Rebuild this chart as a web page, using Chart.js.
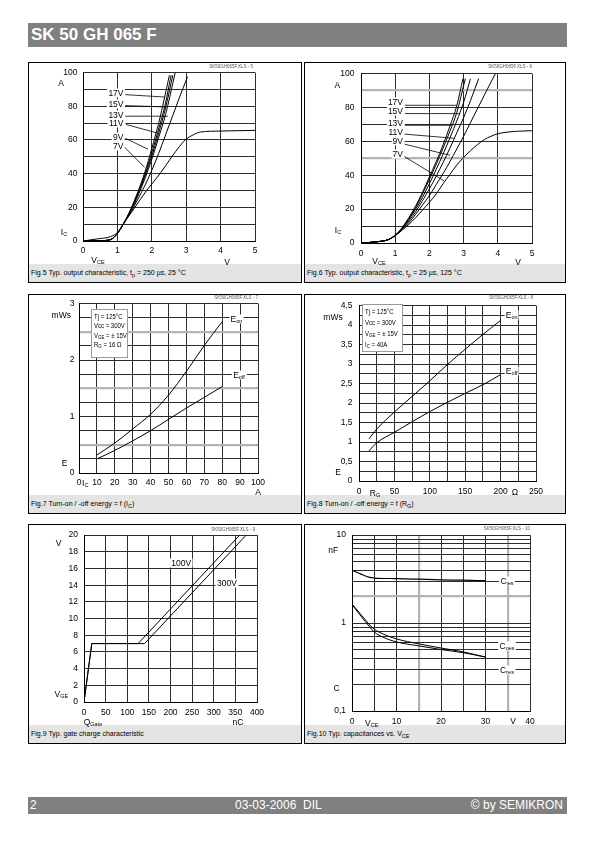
<!DOCTYPE html>
<html><head><meta charset="utf-8">
<script src="https://cdn.jsdelivr.net/npm/chart.js@4.4.1/dist/chart.umd.min.js"></script>
<style>
html,body{margin:0;padding:0;background:#fff}
body{position:relative;width:595px;height:842px;overflow:hidden;font-family:'Liberation Sans',Arial,sans-serif;color:#000}
.bar{position:absolute;background:#808080;color:#fff;white-space:nowrap}
.panel{position:absolute;border:1.5px solid #000;box-sizing:border-box;background:#fff}
.cap{position:absolute;left:0;right:0;bottom:0;height:18px;background:#e4e4e4;font-size:7px;line-height:18px;padding-left:2px;white-space:nowrap}
.t{position:absolute;font-size:8.5px;line-height:9px;white-space:nowrap}
sub{font-size:5.5px;vertical-align:-1.5px;line-height:0}
.wm{position:absolute;font-size:4.5px;line-height:5px;color:#555;white-space:nowrap;transform:translate(-100%,-50%)}
.w{background:#fff;padding:0 1.5px}
.ib{position:absolute;border:1.5px solid #9a9a9a;box-sizing:border-box;background:#fff}
.ib div{position:absolute;left:1.5px;font-size:7.5px;line-height:9px;white-space:nowrap;transform-origin:0 50%;transform:translateY(-50%) scaleX(0.8)}
canvas{position:absolute}
</style></head><body>
<div class="bar" style="left:28px;top:23px;width:539px;height:24px;font-weight:bold;font-size:17px;line-height:24px;padding-left:3px;box-sizing:border-box">SK 50 GH 065 F</div>
<div class="bar" style="left:28px;top:797px;width:539px;height:17px;font-size:12px;line-height:17px">
 <span style="position:absolute;left:2px">2</span>
 <span style="position:absolute;left:207px">03-03-2006&nbsp; DIL</span>
 <span style="position:absolute;right:4px">© by SEMIKRON</span>
</div>
<script>
// ================= DATA =================
// Fig.5  I_C [A] vs V_CE [V], tp = 250 µs, 25 °C
const f5_17V_x = [0, 0.5, 0.8, 1.0, 1.17, 1.4, 1.6, 1.8, 2.0, 2.2, 2.375, 2.51];
const f5_17V_y = [0, 0.2, 0.8, 4.5, 10, 19.5, 29.5, 41, 55, 70, 85.5, 98.4];
const f5_15V_x = [0, 0.5, 0.8, 1.0, 1.17, 1.4, 1.6, 1.8, 2.0, 2.2, 2.4, 2.56];
const f5_15V_y = [0, 0.2, 0.8, 4.5, 10, 19, 28.5, 39.5, 52.5, 66.5, 82, 98.4];
const f5_13V_x = [0, 0.5, 0.8, 1.0, 1.17, 1.4, 1.6, 1.8, 2.0, 2.2, 2.4, 2.61];
const f5_13V_y = [0, 0.2, 0.8, 4.5, 10, 18.5, 28, 38.5, 50.5, 64, 79, 98.4];
const f5_11V_x = [0, 0.5, 0.8, 1.0, 1.17, 1.4, 1.6, 1.8, 2.0, 2.2, 2.4, 2.68];
const f5_11V_y = [0, 0.2, 0.8, 4.5, 10, 18, 27, 37, 48.5, 61.5, 75, 100];
const f5_9V_x  = [0, 0.5, 0.8, 1.0, 1.17, 1.4, 1.6, 1.8, 2.0, 2.2, 2.4, 2.6, 2.8, 3.04];
const f5_9V_y  = [0, 0.2, 0.9, 4.6, 10, 17.5, 25, 33, 42, 52, 63, 74, 85, 97.6];
const f5_7V_x  = [0, 0.4, 0.8, 1.0, 1.17, 1.51, 1.85, 2.24, 2.58, 2.8, 2.97, 3.2, 3.41, 4.0, 5.0];
const f5_7V_y  = [0, 1.2, 2.6, 5, 10, 20, 30, 40, 50, 56, 60, 63, 64.7, 65.3, 65.7];
const f5_leaders = [[1.23, 86.9, 2.375, 85.5], [1.23, 80.4, 2.42, 79.6], [1.23, 74.1, 2.47, 74.1],
                    [1.25, 69.2, 2.13, 64.3], [1.23, 61.0, 1.89, 54.5], [1.2, 55.9, 1.79, 43.7]];
const f5_labels = ['17V', '15V', '13V', '11V', '9V', '7V'];

// Fig.6  I_C [A] vs V_CE [V], tp = 25 µs, 125 °C
const f6_17V_x = [0, 0.5, 0.8, 1.0, 1.2, 1.4, 1.6, 1.8, 2.0, 2.2, 2.4, 2.6, 2.8, 2.98];
const f6_17V_y = [0, 0.8, 2, 4.5, 9, 15, 22, 30, 39, 48, 58, 69, 81, 97];
const f6_15V_x = [0, 0.5, 0.8, 1.0, 1.2, 1.4, 1.6, 1.8, 2.0, 2.2, 2.4, 2.6, 2.8, 3.05];
const f6_15V_y = [0, 0.8, 2, 4.5, 8.8, 14.5, 21, 29, 37.5, 46.5, 56, 66, 77, 97];
const f6_13V_x = [0, 0.5, 0.8, 1.0, 1.2, 1.4, 1.6, 1.8, 2.0, 2.2, 2.4, 2.6, 2.8, 3.0, 3.2];
const f6_13V_y = [0, 0.8, 2, 4.5, 8.5, 14, 20, 27, 35, 43.5, 52.5, 62, 72, 83, 97];
const f6_11V_x = [0, 0.5, 0.8, 1.0, 1.2, 1.4, 1.6, 1.8, 2.0, 2.2, 2.4, 2.6, 2.8, 3.0, 3.2, 3.44];
const f6_11V_y = [0, 0.8, 2, 4.5, 8.2, 13, 18.5, 25, 32, 39.5, 47.5, 56, 65, 74, 84, 97];
const f6_9V_x  = [0, 0.5, 0.8, 1.0, 1.2, 1.4, 1.6, 1.8, 2.0, 2.2, 2.4, 2.6, 2.8, 3.0, 3.2, 3.4, 3.6, 3.8, 3.93];
const f6_9V_y  = [0, 0.8, 2, 4.4, 8, 12, 17, 22.5, 28, 34.5, 41, 48, 55.5, 63, 71, 79, 87, 95, 100];
const f6_7V_x  = [0, 0.5, 0.8, 1.0, 1.2, 1.4, 1.6, 1.8, 2.0, 2.2, 2.4, 2.6, 2.8, 3.0, 3.2, 3.4, 3.6, 3.8, 4.0, 4.3, 4.6, 5.0];
const f6_7V_y  = [0, 0.8, 2, 4.3, 7.5, 11, 15, 19.5, 24, 29, 35, 40.5, 46, 50.5, 54.5, 58, 61, 63, 64.5, 65.5, 66, 66.3];
const f6_leaders = [[1.26, 81.3, 2.80, 81.3], [1.26, 76.4, 2.87, 76.4], [1.26, 69.5, 2.66, 69.5],
                    [1.26, 64.3, 2.73, 61.8], [1.24, 58.5, 2.60, 51.8], [1.24, 51.4, 2.43, 36.7]];
const f6_labels = ['17V', '15V', '13V', '11V', '9V', '7V'];

// Fig.7  E [mWs] vs I_C [A]
const f7_ic   = [10, 20, 30, 40, 50, 60, 70, 80];
const f7_eon  = [0.32, 0.53, 0.78, 1.04, 1.38, 1.80, 2.26, 2.68];
const f7_eoff = [0.25, 0.40, 0.57, 0.75, 0.95, 1.15, 1.34, 1.53];

// Fig.8  E [mWs] vs R_G [Ω]
const f8_rg   = [14, 25, 50, 75, 100, 125, 150, 175, 200];
const f8_eon  = [1.08, 1.33, 1.77, 2.17, 2.57, 2.99, 3.38, 3.76, 4.12];
const f8_eoff = [0.77, 0.98, 1.25, 1.52, 1.78, 2.02, 2.25, 2.47, 2.73];

// Fig.9  V_GE [V] vs Q_Gate [nC]
const f9_100V_q = [0, 18, 125, 360];
const f9_100V_v = [0, 7, 7, 20];
const f9_300V_q = [0, 18, 140, 375];
const f9_300V_v = [0, 7, 7, 20];

// Fig.10  C [nF] vs V_CE [V]
const f10_cies_x = [0, 2, 4, 5, 10, 15, 20, 25, 30];
const f10_cies_y = [4.0, 3.6, 3.3, 3.25, 3.2, 3.15, 3.1, 3.07, 3.03];
const f10_coes_x = [0, 2, 4, 5, 7, 10, 15, 20, 25, 30];
const f10_coes_y = [1.65, 1.25, 0.95, 0.85, 0.75, 0.66, 0.58, 0.52, 0.47, 0.41];
const f10_cres_x = [0, 2, 4, 5, 7, 10, 15, 20, 25, 30];
const f10_cres_y = [1.62, 1.2, 0.9, 0.79, 0.69, 0.61, 0.55, 0.5, 0.46, 0.41];
const f10_yTicks = [0.1, 0.2, 0.3, 0.4, 0.5, 0.6, 0.7, 0.8, 0.9, 1, 2, 3, 4, 5, 6, 7, 8, 9, 10];

// ================= HELPERS =================
const FONT = {family: "'Liberation Sans', Arial, sans-serif", size: 8.5};
const near = (a, b) => Math.abs(a - b) < 1e-9;
function gridOf(grayFn) {
  return {
    drawTicks: false,
    color: c => (grayFn && c.tick && grayFn(c.tick.value)) ? '#b3b3b3' : '#2c2c2c',
    lineWidth: c => (grayFn && c.tick && grayFn(c.tick.value)) ? 2.2 : 1
  };
}
function lin(min, max, step, pad, labelFn, grayFn) {
  return {
    type: 'linear', min, max,
    ticks: {stepSize: step, autoSkip: false, maxRotation: 0, minRotation: 0, padding: pad, color: '#000', font: FONT,
            callback: labelFn || (v => String(v))},
    grid: gridOf(grayFn),
    border: {display: true, color: '#000', width: 1}
  };
}
function pts(xa, ya) { return xa.map((x, i) => ({x, y: ya[i]})); }
function curve(xa, ya, w) {
  return {data: pts(xa, ya), borderColor: '#000', borderWidth: w || 1, pointRadius: 0, fill: false,
          cubicInterpolationMode: 'monotone'};
}
function straight(xa, ya, w) {
  return {data: pts(xa, ya), borderColor: '#000', borderWidth: w || 1, pointRadius: 0, fill: false, tension: 0};
}
function leaders(list) {
  return list.map(l => straight([l[0], l[2]], [l[1], l[3]], 0.8));
}
function panel(P, caption) {
  const d = document.createElement('div');
  d.className = 'panel';
  Object.assign(d.style, {left: P.x + 'px', top: P.y + 'px', width: P.w + 'px', height: P.h + 'px'});
  d.innerHTML = '<div class="cap">' + caption + '</div>';
  document.body.appendChild(d);
}
function makeChart(P, A, xs, ys, datasets) {
  const c = document.createElement('canvas');
  c.width = P.w; c.height = P.h;
  Object.assign(c.style, {left: P.x + 'px', top: P.y + 'px', width: P.w + 'px', height: P.h + 'px'});
  document.body.appendChild(c);
  const xH = 24, yW = A.l - P.x;
  new Chart(c, {
    type: 'line',
    data: {datasets},
    options: {
      responsive: false, maintainAspectRatio: false, animation: false, devicePixelRatio: 1, events: [],
      layout: {padding: {left: 0, top: A.t - P.y, right: (P.x + P.w) - A.r, bottom: (P.y + P.h) - A.b - xH}},
      plugins: {legend: {display: false}, tooltip: {enabled: false}, title: {display: false}},
      scales: {
        x: Object.assign({position: 'bottom', afterFit(s) { s.height = xH; }}, xs),
        y: Object.assign({position: 'left', afterFit(s) { s.width = yW; }}, ys)
      }
    }
  });
}
function txt(x, y, html, a, cls) {
  const d = document.createElement('div');
  d.className = 't' + (cls ? ' ' + cls : '');
  d.innerHTML = html;
  d.style.left = x + 'px'; d.style.top = y + 'px';
  a = a || 'c';
  d.style.transform = a === 'c' ? 'translate(-50%,-50%)' : a === 'l' ? 'translate(0,-50%)' : 'translate(-100%,-50%)';
  document.body.appendChild(d);
}
function wm(x, y, s) {
  const d = document.createElement('div');
  d.className = 'wm'; d.textContent = s;
  d.style.left = x + 'px'; d.style.top = y + 'px';
  document.body.appendChild(d);
}
function infoBox(x, y, w, h, lines, ys) {
  const d = document.createElement('div');
  d.className = 'ib';
  Object.assign(d.style, {left: x + 'px', top: y + 'px', width: w + 'px', height: h + 'px'});
  d.innerHTML = lines.map((l, i) => '<div style="top:' + ys[i] + 'px">' + l + '</div>').join('');
  document.body.appendChild(d);
}
const comma = v => String(v).replace('.', ',');

// ================= PANELS =================
const P1 = {x: 28, y: 62, w: 274, h: 221}, A1 = {l: 83, t: 71, r: 255, b: 241};
const P2 = {x: 304, y: 62, w: 262, h: 221}, A2 = {l: 361, t: 70, r: 532, b: 243};
const P3 = {x: 28, y: 294, w: 274, h: 220}, A3 = {l: 79, t: 302, r: 258, b: 473};
const P4 = {x: 304, y: 294, w: 262, h: 220}, A4 = {l: 359, t: 303, r: 536, b: 481};
const P5 = {x: 28, y: 524, w: 274, h: 220}, A5 = {l: 84, t: 533, r: 257, b: 702};
const P6 = {x: 304, y: 524, w: 262, h: 220}, A6 = {l: 352, t: 534, r: 530, b: 711};

panel(P1, 'Fig.5 Typ. output characteristic, t<sub>p</sub> = 250 µs, 25 °C');
panel(P2, 'Fig.6 Typ. output characteristic, t<sub>p</sub> = 25 µs, 125 °C');
panel(P3, 'Fig.7 Turn-on / -off energy = f (I<sub>C</sub>)');
panel(P4, 'Fig.8 Turn-on / -off energy = f (R<sub>G</sub>)');
panel(P5, 'Fig.9 Typ. gate charge characteristic');
panel(P6, 'Fig.10 Typ. capacitances vs. V<sub>CE</sub>');

// Fig.5
makeChart(P1, A1,
  lin(0, 5, 1, 5),
  lin(0, 100, 10, 5.5, v => (v % 20 === 0 ? String(v) : '')),
  [curve(f5_17V_x, f5_17V_y), curve(f5_15V_x, f5_15V_y), curve(f5_13V_x, f5_13V_y),
   curve(f5_11V_x, f5_11V_y), curve(f5_9V_x, f5_9V_y), curve(f5_7V_x, f5_7V_y)].concat(leaders(f5_leaders)));
// Fig.6
makeChart(P2, A2,
  lin(0, 5, 1, 6),
  lin(0, 100, 10, 6.5, v => (v % 20 === 0 ? String(v) : ''), v => v === 50 || v === 90),
  [curve(f6_17V_x, f6_17V_y), curve(f6_15V_x, f6_15V_y), curve(f6_13V_x, f6_13V_y),
   curve(f6_11V_x, f6_11V_y), curve(f6_9V_x, f6_9V_y), curve(f6_7V_x, f6_7V_y)].concat(leaders(f6_leaders)));
// Fig.7
makeChart(P3, A3,
  lin(0, 100, 10, 5),
  lin(0, 3, 0.25, 4.5, v => (near(v, Math.round(v)) ? String(Math.round(v)) : ''),
      v => near(v * 2, Math.round(v * 2)) && !near(v, Math.round(v))),
  [curve(f7_ic, f7_eon), curve(f7_ic, f7_eoff)]);
// Fig.8
makeChart(P4, A4,
  lin(0, 250, 25, 6, v => (v % 50 === 0 ? String(v) : '')),
  lin(0, 4.5, 0.25, 6.5, v => (near(v * 2, Math.round(v * 2)) ? comma(v) : '')),
  [curve(f8_rg, f8_eon), curve(f8_rg, f8_eoff)]);
// Fig.9
makeChart(P5, A5,
  lin(0, 400, 50, 6),
  lin(0, 20, 2, 6),
  [straight(f9_100V_q, f9_100V_v), straight(f9_300V_q, f9_300V_v)]);
// Fig.10
makeChart(P6, A6,
  lin(0, 40, 5, 6, v => (v % 10 === 0 ? String(v) : ''), v => v === 15 || v === 35),
  {type: 'logarithmic', min: 0.1, max: 10,
   afterBuildTicks(s) { s.ticks = f10_yTicks.map(v => ({value: v})); },
   ticks: {autoSkip: false, padding: 6, color: '#000', font: FONT,
           callback: v => (near(v, 0.1) ? '0,1' : near(v, 1) ? '1' : near(v, 10) ? '10' : '')},
   grid: gridOf(v => near(v, 2)),
   border: {display: true, color: '#000', width: 1}},
  [curve(f10_cies_x, f10_cies_y, 1.2), curve(f10_coes_x, f10_coes_y), curve(f10_cres_x, f10_cres_y)]);

// ================= TEXT OVERLAYS =================
// Fig.5
wm(253, 65.7, 'SK50GH065F.XLS - 5');
txt(61, 83.3, 'A'); txt(64, 231.7, 'I<sub>C</sub>'); txt(98, 260, 'V<sub>CE</sub>'); txt(227, 261.7, 'V');
[93.3, 104.3, 115, 123.3, 137.3, 146].forEach((y, i) => txt(125, y, f5_labels[i], 'r', 'w'));
// Fig.6
wm(532, 65.7, 'SK50GH065F.XLS - 6');
txt(337.3, 85, 'A'); txt(338, 230, 'I<sub>C</sub>'); txt(379, 261, 'V<sub>CE</sub>'); txt(518, 262, 'V');
[102.3, 111, 122.7, 131.7, 141, 154].forEach((y, i) => txt(404.5, y, f6_labels[i], 'r', 'w'));
// Fig.7
wm(258, 297, 'SK50GH065F.XLS - 7');
txt(61.3, 315, 'mWs'); txt(64.7, 463.3, 'E'); txt(82, 482.7, 'I<sub>C</sub>', 'l'); txt(258, 491.7, 'A');
txt(236.5, 319.3, 'E<sub>on</sub>', 'c', 'w'); txt(239, 375, 'E<sub>off</sub>', 'c', 'w');
infoBox(91, 309, 37, 49, ['Tj = 125°C', 'Vcc = 300V', 'V<sub>GE</sub> = ± 15V', 'R<sub>G</sub> = 16 Ω'], [5.5, 14.8, 24.5, 33.8]);
// Fig.8
wm(533, 297, 'SK50GH065F.XLS - 8');
txt(333, 316.7, 'mWs'); txt(338, 471.7, 'E'); txt(375, 492.7, 'R<sub>G</sub>'); txt(515, 491.7, 'Ω');
txt(511.7, 314.5, 'E<sub>on</sub>', 'c', 'w'); txt(511.7, 371, 'E<sub>off</sub>', 'c', 'w');
infoBox(362, 304, 41, 48, ['Tj = 125°C', 'Vcc = 300V', 'V<sub>GE</sub> = ± 15V', 'I<sub>C</sub> = 40A'], [5.5, 16.5, 28, 39]);
// Fig.9
wm(255, 528.5, 'SK50GH065F.XLS - 9');
txt(58.7, 543.3, 'V'); txt(61.3, 694, 'V<sub>GE</sub>'); txt(93, 721.7, 'Q<sub>Gate</sub>'); txt(238, 721.7, 'nC');
txt(181.3, 563.3, '100V', 'c', 'w'); txt(227, 582.5, '300V', 'c', 'w');
// Fig.10
wm(530, 528, 'SK50GH065F.XLS - 10');
txt(333.3, 550, 'nF'); txt(336.7, 688.3, 'C'); txt(371.7, 722.7, 'V<sub>CE</sub>'); txt(513, 721, 'V');
txt(507, 580.7, 'C<sub>ies</sub>', 'c', 'w'); txt(507, 646, 'C<sub>oes</sub>', 'c', 'w'); txt(507, 670, 'C<sub>res</sub>', 'c', 'w');
</script>
</body></html>
